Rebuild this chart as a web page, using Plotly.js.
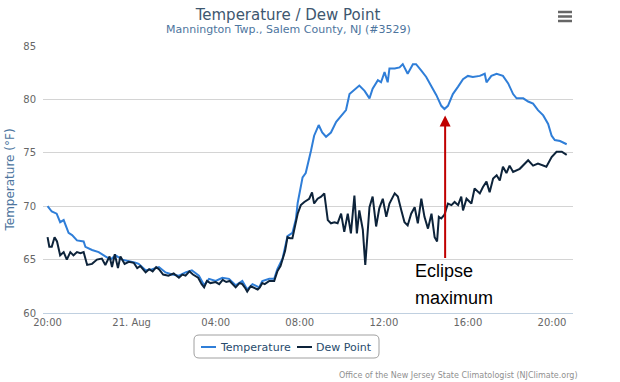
<!DOCTYPE html>
<html>
<head>
<meta charset="utf-8">
<script src="https://cdn.plot.ly/plotly-3.0.1.min.js"></script>
<style>html,body{margin:0;padding:0;background:#fff;}#chart{width:620px;height:382px;}</style>
</head>
<body>
<div id="chart"></div>
<script>
// ---------- DATA ----------
const seriesNames = ['Temperature', 'Dew Point'];

const tempTime = [
 '2017-08-20 20:00','2017-08-20 20:12','2017-08-20 20:26','2017-08-20 20:36','2017-08-20 20:46',
 '2017-08-20 21:00','2017-08-20 21:10','2017-08-20 21:24','2017-08-20 21:43','2017-08-20 21:48',
 '2017-08-20 22:07','2017-08-20 22:26','2017-08-20 22:45','2017-08-20 23:00','2017-08-20 23:14',
 '2017-08-20 23:33','2017-08-21 00:11','2017-08-21 00:20','2017-08-21 00:40','2017-08-21 00:59',
 '2017-08-21 01:18','2017-08-21 01:37','2017-08-21 01:56','2017-08-21 02:15','2017-08-21 02:34',
 '2017-08-21 02:52','2017-08-21 03:12','2017-08-21 03:27','2017-08-21 03:41','2017-08-21 04:00',
 '2017-08-21 04:19','2017-08-21 04:38','2017-08-21 04:57','2017-08-21 05:16','2017-08-21 05:30',
 '2017-08-21 05:45','2017-08-21 06:04','2017-08-21 06:13','2017-08-21 06:33','2017-08-21 06:47',
 '2017-08-21 06:56','2017-08-21 07:11','2017-08-21 07:25','2017-08-21 07:39','2017-08-21 07:49',
 '2017-08-21 07:54','2017-08-21 08:08','2017-08-21 08:17','2017-08-21 08:32','2017-08-21 08:41',
 '2017-08-21 08:54','2017-08-21 09:04','2017-08-21 09:15','2017-08-21 09:29','2017-08-21 09:44',
 '2017-08-21 09:58','2017-08-21 10:12','2017-08-21 10:22','2017-08-21 10:36','2017-08-21 10:50',
 '2017-08-21 11:05','2017-08-21 11:19','2017-08-21 11:28','2017-08-21 11:43','2017-08-21 11:52',
 '2017-08-21 12:02','2017-08-21 12:11','2017-08-21 12:16','2017-08-21 12:31','2017-08-21 12:45',
 '2017-08-21 12:54','2017-08-21 13:08','2017-08-21 13:23','2017-08-21 13:32','2017-08-21 13:47',
 '2017-08-21 14:01','2017-08-21 14:16','2017-08-21 14:30','2017-08-21 14:44','2017-08-21 14:53',
 '2017-08-21 15:03','2017-08-21 15:17','2017-08-21 15:32','2017-08-21 15:46','2017-08-21 16:00',
 '2017-08-21 16:14','2017-08-21 16:34','2017-08-21 16:48','2017-08-21 16:53','2017-08-21 17:07',
 '2017-08-21 17:22','2017-08-21 17:40','2017-08-21 17:55','2017-08-21 18:09','2017-08-21 18:19',
 '2017-08-21 18:38','2017-08-21 18:52','2017-08-21 19:06','2017-08-21 19:20','2017-08-21 19:35',
 '2017-08-21 19:49','2017-08-21 19:59','2017-08-21 20:08','2017-08-21 20:23','2017-08-21 20:42'
];
const tempVal = [
 70.0,69.5,69.3,68.5,68.7,
 67.5,67.3,66.8,66.7,66.2,
 65.9,65.7,65.3,65.0,65.4,
 65.0,64.7,64.6,64.0,64.1,
 64.3,63.8,63.6,63.5,63.8,
 64.0,63.5,62.6,63.2,63.0,
 63.3,63.2,62.6,63.0,62.2,
 62.7,62.4,63.0,63.2,63.2,
 64.1,65.1,67.2,67.5,68.8,
 70.3,72.7,73.1,75.2,76.6,
 77.6,76.9,76.5,76.9,77.9,
 78.5,79.0,80.5,80.9,81.3,
 80.8,80.1,81.0,81.8,81.6,
 82.55,81.6,82.9,82.9,83.0,
 83.3,82.4,83.3,83.3,82.7,
 82.1,81.2,80.4,79.4,79.1,
 79.4,80.5,81.2,81.9,82.2,
 82.1,82.2,82.4,81.6,82.2,
 82.4,82.2,81.5,80.5,80.1,
 80.1,79.8,79.6,79.0,78.5,
 77.7,76.6,76.2,76.1,75.8
];

const dewTime = [
 '2017-08-20 20:00','2017-08-20 20:05','2017-08-20 20:12','2017-08-20 20:20','2017-08-20 20:27',
 '2017-08-20 20:36','2017-08-20 20:46','2017-08-20 20:55','2017-08-20 21:05','2017-08-20 21:14',
 '2017-08-20 21:24','2017-08-20 21:34','2017-08-20 21:43','2017-08-20 21:53','2017-08-20 22:07',
 '2017-08-20 22:21','2017-08-20 22:35','2017-08-20 22:45','2017-08-20 22:57','2017-08-20 23:04',
 '2017-08-20 23:12','2017-08-20 23:21','2017-08-20 23:28','2017-08-20 23:40','2017-08-20 23:52',
 '2017-08-21 00:06','2017-08-21 00:16','2017-08-21 00:25','2017-08-21 00:40','2017-08-21 00:50',
 '2017-08-21 01:00','2017-08-21 01:10','2017-08-21 01:18','2017-08-21 01:30','2017-08-21 01:45',
 '2017-08-21 02:00','2017-08-21 02:15','2017-08-21 02:25','2017-08-21 02:34','2017-08-21 02:45',
 '2017-08-21 02:55','2017-08-21 03:10','2017-08-21 03:20','2017-08-21 03:27','2017-08-21 03:35',
 '2017-08-21 03:45','2017-08-21 04:00','2017-08-21 04:10','2017-08-21 04:20','2017-08-21 04:30',
 '2017-08-21 04:40','2017-08-21 04:50','2017-08-21 04:57','2017-08-21 05:08','2017-08-21 05:16',
 '2017-08-21 05:25','2017-08-21 05:30','2017-08-21 05:40','2017-08-21 05:48','2017-08-21 06:00',
 '2017-08-21 06:06','2017-08-21 06:13','2017-08-21 06:20','2017-08-21 06:33','2017-08-21 06:47',
 '2017-08-21 06:56','2017-08-21 07:05','2017-08-21 07:11','2017-08-21 07:18','2017-08-21 07:25',
 '2017-08-21 07:32','2017-08-21 07:39','2017-08-21 07:49','2017-08-21 07:54','2017-08-21 08:03',
 '2017-08-21 08:13','2017-08-21 08:27','2017-08-21 08:35','2017-08-21 08:41','2017-08-21 08:51',
 '2017-08-21 09:01','2017-08-21 09:10','2017-08-21 09:20','2017-08-21 09:29','2017-08-21 09:39',
 '2017-08-21 09:48','2017-08-21 09:58','2017-08-21 10:07','2017-08-21 10:17','2017-08-21 10:26',
 '2017-08-21 10:36','2017-08-21 10:43','2017-08-21 10:50','2017-08-21 11:00','2017-08-21 11:07',
 '2017-08-21 11:19','2017-08-21 11:28','2017-08-21 11:38','2017-08-21 11:47','2017-08-21 11:57',
 '2017-08-21 12:07','2017-08-21 12:16','2017-08-21 12:31','2017-08-21 12:40','2017-08-21 12:50',
 '2017-08-21 12:59','2017-08-21 13:08','2017-08-21 13:18','2017-08-21 13:28','2017-08-21 13:37',
 '2017-08-21 13:47','2017-08-21 13:56','2017-08-21 14:06','2017-08-21 14:16','2017-08-21 14:25',
 '2017-08-21 14:32','2017-08-21 14:37','2017-08-21 14:44','2017-08-21 14:53','2017-08-21 15:03',
 '2017-08-21 15:13','2017-08-21 15:22','2017-08-21 15:32','2017-08-21 15:41','2017-08-21 15:46',
 '2017-08-21 15:56','2017-08-21 16:10','2017-08-21 16:19','2017-08-21 16:34','2017-08-21 16:43',
 '2017-08-21 16:53','2017-08-21 17:02','2017-08-21 17:12','2017-08-21 17:22','2017-08-21 17:31',
 '2017-08-21 17:40','2017-08-21 17:50','2017-08-21 17:59','2017-08-21 18:09','2017-08-21 18:28',
 '2017-08-21 18:52','2017-08-21 19:06','2017-08-21 19:20','2017-08-21 19:44','2017-08-21 19:59',
 '2017-08-21 20:13','2017-08-21 20:28','2017-08-21 20:42'
];
const dewVal = [
 67.1,66.2,66.2,67.1,66.7,
 65.4,65.7,65.0,65.7,65.4,
 65.7,65.6,65.7,64.5,64.6,
 65.0,65.1,64.5,65.3,64.3,
 65.5,64.2,65.3,64.6,64.8,
 64.7,64.2,64.4,63.8,64.1,
 63.9,64.3,64.1,63.6,63.5,
 63.7,63.3,63.6,63.5,63.9,
 63.6,63.3,62.7,62.4,63.0,
 62.8,62.9,62.7,63.1,62.9,
 63.0,62.6,62.4,62.8,62.7,
 62.3,62.0,62.5,62.4,62.2,
 62.4,62.8,62.7,63.0,63.0,
 63.9,64.4,65.0,65.8,67.1,
 67.0,67.0,68.7,69.3,70.1,
 70.4,70.7,71.3,70.25,70.7,
 70.9,71.2,68.7,68.4,68.5,
 68.4,69.3,67.6,69.3,67.45,
 71.0,67.45,69.6,67.8,64.5,
 69.9,70.9,68.1,69.8,70.7,
 69.0,70.25,71.2,70.9,69.6,
 68.5,68.2,69.3,69.9,68.4,
 70.7,69.0,67.9,69.3,67.1,
 66.7,69.0,68.85,69.2,70.25,
 70.1,70.4,70.1,70.9,69.6,
 70.7,70.25,71.65,71.2,71.8,
 72.3,71.3,72.6,72.9,72.4,
 73.7,73.1,73.8,73.2,73.5,
 74.3,73.8,74.0,73.7,74.6,
 75.1,75.1,74.8
];

const xTickVals = ['2017-08-20 20:00','2017-08-21 00:00','2017-08-21 04:00','2017-08-21 08:00',
                   '2017-08-21 12:00','2017-08-21 16:00','2017-08-21 20:00'];
const xTickText = ['20:00','21. Aug','04:00','08:00','12:00','16:00','20:00'];
const yTickVals = [60, 65, 70, 75, 80, 85];

const titleText = 'Temperature / Dew Point';
const subtitleText = 'Mannington Twp., Salem County, NJ (#3529)';
const yTitleText = 'Temperature (°F)';
const creditText = 'Office of the New Jersey State Climatologist (NJClimate.org)';
const eclipseTime = '2017-08-21 14:55';
const eclipseTip = 78.5;
const eclipseTail = 65.0;
const eclipseLines = ['Eclipse', 'maximum'];

// ---------- LAYOUT HELPERS ----------
const W = 620, H = 382;
const M = {l: 43, r: 47, t: 46, b: 69};
const PW = W - M.l - M.r, PH = H - M.t - M.b;
const px = x => (x - M.l) / PW;
const py = y => (M.t + PH - y) / PH;

const FONT = 'DejaVu Sans, Verdana, sans-serif';
const colors = ['#2f7ed8', '#0d233a'];

const traces = [
  {x: tempTime, y: tempVal, name: seriesNames[0], type: 'scatter', mode: 'lines',
   line: {color: colors[0], width: 2}, hoverinfo: 'skip'},
  {x: dewTime, y: dewVal, name: seriesNames[1], type: 'scatter', mode: 'lines',
   line: {color: colors[1], width: 2}, hoverinfo: 'skip'}
];

// legend box (rounded) drawn manually
function roundRect(x0, y0, x1, y1, r) {
  const X0 = px(x0), X1 = px(x1), Yt = py(y0), Yb = py(y1);
  const rx = r / PW, ry = r / PH;
  return `M${X0+rx},${Yt} L${X1-rx},${Yt} Q${X1},${Yt} ${X1},${Yt-ry} L${X1},${Yb+ry} Q${X1},${Yb} ${X1-rx},${Yb} ` +
         `L${X0+rx},${Yb} Q${X0},${Yb} ${X0},${Yb+ry} L${X0},${Yt-ry} Q${X0},${Yt} ${X0+rx},${Yt} Z`;
}

const shapes = [
  {type: 'path', xref: 'paper', yref: 'paper', path: roundRect(194, 335, 379, 358, 5),
   line: {color: '#a0a0a0', width: 1}, fillcolor: 'rgba(0,0,0,0)'},
  {type: 'line', xref: 'paper', yref: 'paper', x0: px(201), x1: px(216), y0: py(347), y1: py(347),
   line: {color: colors[0], width: 2}},
  {type: 'line', xref: 'paper', yref: 'paper', x0: px(297), x1: px(312), y0: py(347), y1: py(347),
   line: {color: colors[1], width: 2}},
  // export menu icon
  {type: 'line', xref: 'paper', yref: 'paper', x0: px(558), x1: px(572), y0: py(12), y1: py(12), line: {color: '#666', width: 2.5}},
  {type: 'line', xref: 'paper', yref: 'paper', x0: px(558), x1: px(572), y0: py(16.5), y1: py(16.5), line: {color: '#666', width: 2.5}},
  {type: 'line', xref: 'paper', yref: 'paper', x0: px(558), x1: px(572), y0: py(21), y1: py(21), line: {color: '#666', width: 2.5}}
];

const annotations = [
  {xref: 'paper', yref: 'paper', x: px(288), y: py(29.5), xanchor: 'center', yanchor: 'middle',
   text: subtitleText, showarrow: false, font: {family: FONT, size: 11, color: '#4d759e'}},
  {xref: 'paper', yref: 'paper', x: px(218), y: py(347), xanchor: 'left', yanchor: 'middle',
   text: seriesNames[0], showarrow: false, font: {family: FONT, size: 11, color: '#274b6d'}},
  {xref: 'paper', yref: 'paper', x: px(314), y: py(347), xanchor: 'left', yanchor: 'middle',
   text: seriesNames[1], showarrow: false, font: {family: FONT, size: 11, color: '#274b6d'}},
  {xref: 'paper', yref: 'paper', x: px(580), y: py(375.5), xanchor: 'right', yanchor: 'middle',
   text: creditText, showarrow: false, font: {family: FONT, size: 8, color: '#909090'}},
  {xref: 'x', yref: 'y', x: eclipseTime, y: eclipseTip, axref: 'x', ayref: 'y', ax: eclipseTime, ay: eclipseTail,
   text: '', showarrow: true, arrowhead: 2, arrowsize: 1.1, arrowwidth: 2, arrowcolor: '#c00000', standoff: 0, startstandoff: 0},
  {xref: 'paper', yref: 'paper', x: px(413), y: py(259), xanchor: 'left', yanchor: 'top', align: 'left',
   text: eclipseLines[0], showarrow: false, font: {family: 'Liberation Sans, Arial, sans-serif', size: 18, color: '#000'}},
  {xref: 'paper', yref: 'paper', x: px(413), y: py(286), xanchor: 'left', yanchor: 'top', align: 'left',
   text: eclipseLines[1], showarrow: false, font: {family: 'Liberation Sans, Arial, sans-serif', size: 18, color: '#000'}}
];

const layout = {
  width: W, height: H,
  margin: M,
  paper_bgcolor: '#fff', plot_bgcolor: '#fff',
  showlegend: false,
  title: {text: titleText, xref: 'container', yref: 'container', x: 288 / W, y: 1 - 15 / H,
          xanchor: 'center', yanchor: 'middle', font: {family: FONT, size: 15, color: '#3e576f'}},
  xaxis: {type: 'date', range: ['2017-08-20 19:47', '2017-08-21 21:00'],
          tickmode: 'array', tickvals: xTickVals, ticktext: xTickText,
          showgrid: false, zeroline: false, showline: true, linecolor: '#c0d0e0', linewidth: 1,
          ticks: '', tickfont: {family: FONT, size: 10, color: '#666'}},
  yaxis: {range: [60, 85], tickmode: 'array', tickvals: yTickVals,
          showgrid: true, gridcolor: '#d4d4d4', gridwidth: 1, zeroline: false, showline: false,
          ticks: '', ticklabelstandoff: 6, tickfont: {family: FONT, size: 10, color: '#666'},
          title: {text: yTitleText, standoff: 6, font: {family: FONT, size: 12, color: '#4d759e'}}},
  shapes: shapes,
  annotations: annotations
};

Plotly.newPlot('chart', traces, layout, {displayModeBar: false, staticPlot: true});
</script>
</body>
</html>
